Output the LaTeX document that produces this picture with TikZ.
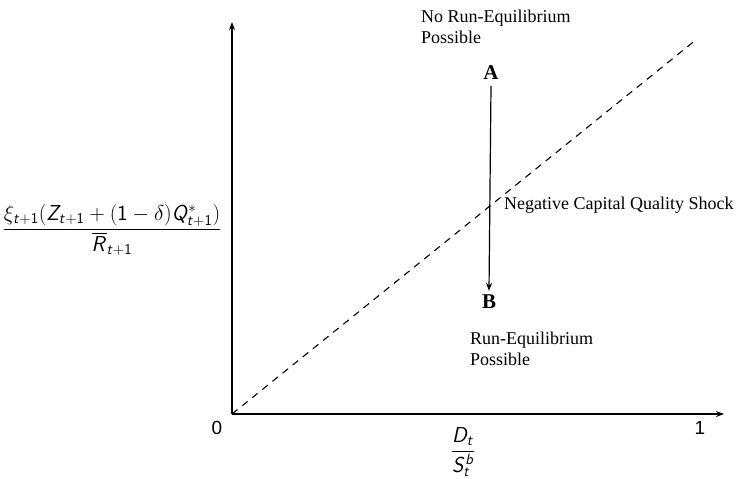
\documentclass[tikz,border=0pt]{standalone}
\usepackage{amsmath,amssymb}
\usepackage{fontspec}
\setmainfont{Liberation Serif}
\setsansfont{Liberation Sans}
\usepackage{tikz}
\usetikzlibrary{arrows.meta,positioning}

% sans math letters as in beamer
\DeclareMathAlphabet{\mathssl}{OT1}{cmss}{m}{sl}
\DeclareMathAlphabet{\mathssn}{OT1}{cmss}{m}{n}
\newcommand{\sv}[1]{\mathssl{#1}}
\newcommand{\sn}[1]{\mathssn{#1}}

\begin{document}
\begin{tikzpicture}[
    x=1pt, y=1pt,
    >={Stealth[length=8pt,width=6pt]},
    font=\fontsize{18}{21.5}\selectfont,
    every node/.style={inner sep=1pt},
    axis/.style={line width=1.8pt, ->},
    lbl/.style={anchor=west, align=left},
    ptlbl/.style={font=\fontsize{21}{24}\selectfont\bfseries},
    numlbl/.style={font=\fontsize{19}{22}\selectfont\sffamily},
    mathlbl/.style={scale=1.25, font=\fontsize{16.5}{20}\selectfont}
]
\useasboundingbox (0,0) rectangle (736,479);

% Axes
\coordinate (O)  at (232,65);
\coordinate (Yt) at (232,457);
\coordinate (Xt) at (724,65);
\draw[axis] (O) -- (Yt);
\draw[axis] (O) -- (Xt);

\node[numlbl] (zero) at (217,51) {0};
\node[numlbl] (one)  at (700,51) {1};

% Axis labels
\node[mathlbl] (xlab) at (463,27) {$\dfrac{\sv{D}_{\sv{t}}}{\sv{S}_{\sv{t}}^{\sv{b}}}$};
\node[mathlbl] (ylab) at (112,249) {$\dfrac{\xi_{\sv{t}+\sn{1}}(\sv{Z}_{\sv{t}+\sn{1}}+(\sn{1}-\delta)\sv{Q}^*_{\sv{t}+\sn{1}})}{\overline{\sv{R}}_{\sv{t}+\sn{1}}}$};

% Dashed 45 degree line
\coordinate (D) at (697,440);
\draw[line width=1.1pt, dash pattern=on 7pt off 6pt] (O) -- (D);

% Points
\node[ptlbl] (A) at (491,406) {A};
\node[ptlbl] (B) at (489,177) {B};

% Shock
\draw[->, line width=1.2pt] ([yshift=-5pt]A.south) -- ([yshift=3pt]B.north);

% Labels
\node[lbl] (norun) at (420,452) {No Run-Equilibrium\\Possible};
\node[lbl] (run)   at (469,130) {Run-Equilibrium\\Possible};
\node[lbl] (shock) at (503,274) {Negative Capital Quality Shock};

\end{tikzpicture}
\end{document}
